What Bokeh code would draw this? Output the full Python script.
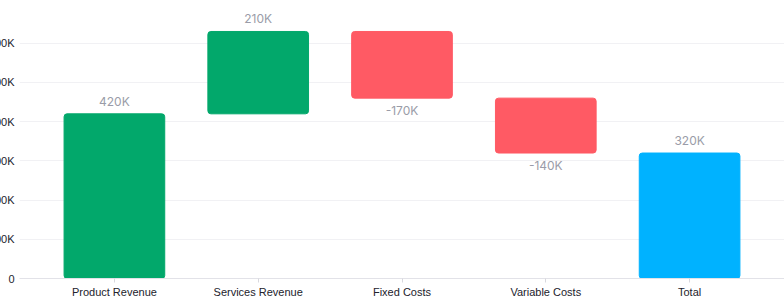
from bokeh.plotting import figure
from bokeh.models import ColumnDataSource, FactorRange, Range1d, FixedTicker, CustomJSTickFormatter, LabelSet
from bokeh.core.properties import value
from bokeh.embed import file_html
from bokeh.resources import INLINE

categories = ["Product Revenue", "Services Revenue", "Fixed Costs", "Variable Costs", "Total"]
values = [420000, 210000, -170000, -140000, 320000]
is_total = [False, False, False, False, True]
value_labels = ["420K", "210K", "-170K", "-140K", "320K"]
y_ticks = [0, 100000, 200000, 300000, 400000, 500000, 600000]

bottoms, tops, colors, label_y = [], [], [], []
run = 0
for v, t in zip(values, is_total):
    if t:
        b, tp = 0, v
        col = "#00B2FF"
    else:
        b, tp = (run, run + v) if v >= 0 else (run + v, run)
        run += v
        col = "#02A86B" if v >= 0 else "#FF5A64"
    bottoms.append(b)
    tops.append(tp)
    colors.append(col)
    label_y.append(tp if v >= 0 else b)

src = ColumnDataSource(dict(x=categories, bottom=bottoms, top=tops, color=colors))

p = figure(width=805, height=300, output_backend="svg", toolbar_location=None,
           x_range=FactorRange(factors=categories, range_padding=0.16, range_padding_units="absolute"),
           y_range=Range1d(0, 709000),
           min_border_left=40, min_border_right=0, min_border_top=0, min_border_bottom=20)
p.margin = (0, 0, 0, -21)
p.outline_line_color = None
p.background_fill_color = "white"
p.border_fill_color = "white"

p.vbar(x="x", bottom="bottom", top="top", width=0.7, color="color", source=src,
       border_radius=3)

pos = ColumnDataSource(dict(x=[c for c, v in zip(categories, values) if v >= 0],
                            y=[ly for ly, v in zip(label_y, values) if v >= 0],
                            t=[l for l, v in zip(value_labels, values) if v >= 0]))
neg = ColumnDataSource(dict(x=[c for c, v in zip(categories, values) if v < 0],
                            y=[ly for ly, v in zip(label_y, values) if v < 0],
                            t=[l for l, v in zip(value_labels, values) if v < 0]))
for s, base, off in [(pos, "bottom", 5), (neg, "top", -5)]:
    p.add_layout(LabelSet(x="x", y="y", text="t", source=s, text_align="center",
                          text_baseline=base, y_offset=off, text_font=value("Inter"),
                          text_font_size="12px", text_color="#9A9CA8"))

p.yaxis.ticker = FixedTicker(ticks=y_ticks)
p.yaxis.formatter = CustomJSTickFormatter(code="return tick == 0 ? '0' : (tick/1000) + 'K';")
p.yaxis.axis_line_color = None
p.yaxis.major_tick_line_color = None
p.yaxis.major_tick_out = 0
p.yaxis.major_tick_in = 0
p.yaxis.minor_tick_line_color = None
p.yaxis.major_label_text_font = "Liberation Sans"
p.yaxis.major_label_text_font_size = "11px"
p.yaxis.major_label_text_color = "#22222c"
p.yaxis.major_label_standoff = 5

p.xaxis.axis_line_color = "#E2E2E8"
p.xaxis.major_tick_line_color = "#D8D8DE"
p.xaxis.major_tick_in = 0
p.xaxis.major_tick_out = 4
p.xaxis.minor_tick_line_color = None
p.xaxis.major_label_text_font = "Liberation Sans"
p.xaxis.major_label_text_font_size = "11px"
p.xaxis.major_label_text_color = "#22222c"
p.xaxis.major_label_standoff = 3

p.xgrid.grid_line_color = None
p.ygrid.grid_line_color = "#F1F1F4"
p.ygrid.ticker = FixedTicker(ticks=y_ticks)

open("out.html", "w").write(file_html(p, INLINE))
